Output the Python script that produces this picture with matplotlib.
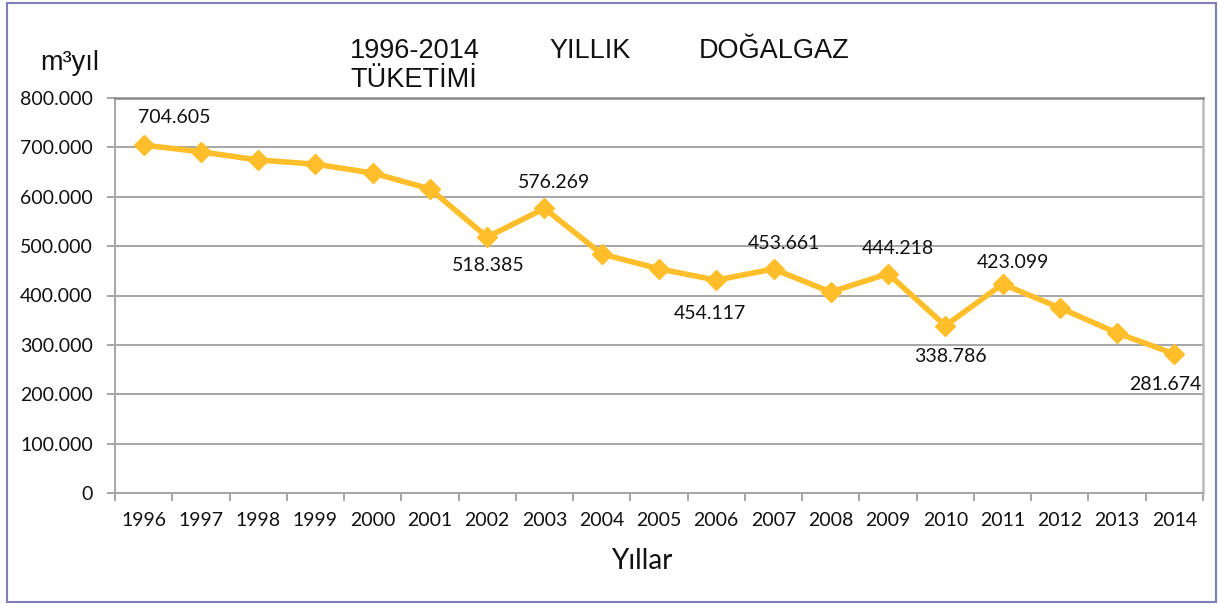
import matplotlib.pyplot as plt
from matplotlib.patches import Rectangle
from matplotlib.ticker import FuncFormatter, MultipleLocator

years = [str(y) for y in range(1996, 2015)]
consumption = [704605, 691000, 674500, 666000, 648000, 616000, 518385, 576269,
               484000, 454117, 431000, 453661, 407000, 444218, 338786, 423099,
               375000, 324000, 281674]

# labelled points as they appear in the chart (index, text)
label_idx = [0, 6, 7, 10, 11, 13, 14, 15, 18]
label_txt = ["704.605", "518.385", "576.269", "454.117", "453.661",
             "444.218", "338.786", "423.099", "281.674"]
# offsets in pixels from the point (style only)
label_off = [(31, 28), (1, -28), (10, 26), (-6, -33), (10, 26),
             (10, 25), (5, -31), (10, 22), (-9, -31)]

LINE = "#FFBE2A"
GRID = "#A6A6A6"
TICKFONT = "Lato"

fig = plt.figure(figsize=(12.18, 6.04), dpi=100)
ax = fig.add_axes([115 / 1218, 1 - 493 / 604, (1203 - 115) / 1218, (493 - 98) / 604])

x = list(range(len(years)))
ax.plot(x, consumption, color=LINE, lw=4.0, marker="D", ms=10,
        markeredgecolor=LINE, zorder=3, solid_joinstyle="miter")

for i, t, (dx, dy) in zip(label_idx, label_txt, label_off):
    ax.annotate(t, (x[i], consumption[i]), xytext=(dx * 0.72, dy * 0.72),
                textcoords="offset points", ha="center", va="center",
                fontsize=14, family=TICKFONT, color="#111111")

ax.set_xlim(-0.5, len(years) - 0.5)
ax.set_ylim(0, 800000)
ax.yaxis.set_major_locator(MultipleLocator(100000))
ax.yaxis.set_major_formatter(FuncFormatter(
    lambda v, p: "0" if v == 0 else f"{int(v):,}".replace(",", ".")))
ax.grid(axis="y", color=GRID, lw=1.4)
ax.set_axisbelow(True)

ax.set_xticks(x)
ax.set_xticklabels(years)
ax.set_xticks([i - 0.5 for i in range(len(years) + 1)], minor=True)
ax.tick_params(axis="x", which="major", length=0, pad=14)
ax.tick_params(axis="x", which="minor", length=6, width=1.4, color=GRID)
ax.tick_params(axis="y", length=6, width=1.4, color=GRID, pad=10)
for lab in ax.get_xticklabels() + ax.get_yticklabels():
    lab.set_fontfamily(TICKFONT)
    lab.set_fontsize(14)
    lab.set_color("#111111")

for side in ["left", "bottom"]:
    ax.spines[side].set_color(GRID)
    ax.spines[side].set_linewidth(1.4)
ax.spines["top"].set_color("#888888")
ax.spines["top"].set_linewidth(1.8)
ax.spines["right"].set_color("#BBBBBB")
ax.spines["right"].set_linewidth(1.8)

tfont = dict(family="Liberation Sans", fontsize=19.5, color="#111111", va="baseline")
fig.text(350 / 1218, 1 - 58 / 604, "1996-2014", **tfont)
fig.text(549 / 1218, 1 - 58 / 604, "YILLIK", **tfont)
fig.text(699 / 1218, 1 - 58 / 604, "DOĞALGAZ", **tfont)
fig.text(350 / 1218, 1 - 87 / 604, "TÜKETİMİ", **tfont)
fig.text(40 / 1218, 1 - 70 / 604, "m³yıl", **tfont)

fig.text(642 / 1218, 1 - 561 / 604, "Yıllar", family=TICKFONT, fontsize=20,
         ha="center", va="center", color="#111111")

fig.patches.append(Rectangle((7 / 1218, 2 / 604), 1209 / 1218, 599 / 604,
                             transform=fig.transFigure, fill=False,
                             edgecolor="#7F7FB8", lw=1.5))

fig.savefig("out.png", dpi=100)
